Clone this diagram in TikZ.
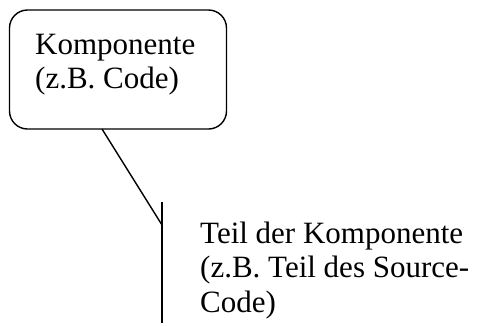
\documentclass[tikz,border=0pt]{standalone}
\usepackage{fontspec}
\setmainfont{Liberation Serif}
\begin{document}
\begin{tikzpicture}[x=1pt,y=-1pt,
  ink/.style={line width=1.4pt, black},
  label/.style={font=\fontsize{31}{34.5}\selectfont, align=left,
    anchor=north west, inner sep=0pt},
  compbox/.style={ink, draw, rounded corners=18pt, minimum width=217pt,
    minimum height=119pt, inner sep=0pt}]
  \useasboundingbox (0,0) rectangle (477,325);
  % component box and its caption
  \node[compbox] (komp) at (118,69.5) {};
  \node[label] (kompText) at (35,33.8) {Komponente\\(z.B. Code)};
  % leader from the box to the bracket line
  \coordinate (lstart) at (102,129);
  \coordinate (ltop) at (162,202);
  \coordinate (ljoin) at (162,225);
  \coordinate (lbot) at (162,323);
  \draw[ink] (lstart) -- (ljoin);
  \draw[ink] (ltop) -- (lbot);
  % description of the part
  \node[label] (teil) at (200,221.5)
    {Teil der Komponente\\(z.B. Teil des Source-\\Code)};
\end{tikzpicture}
\end{document}
